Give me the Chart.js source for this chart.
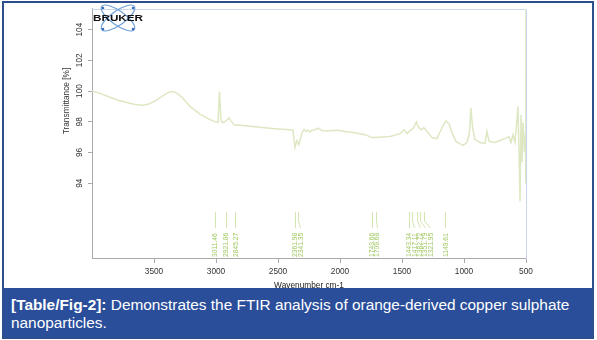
<!DOCTYPE html>
<html>
<head>
<meta charset="utf-8">
<title>FTIR</title>
<script src="https://cdn.jsdelivr.net/npm/chart.js@4.4.1/dist/chart.umd.min.js"></script>
<style>
    body { margin: 0; background: #fff; font-family: "Liberation Sans", Arial, sans-serif; }
    #fig { position: absolute; left: 2px; top: 1px; width: 588px; height: 334px; border: 2px solid #2d4f8e; overflow: hidden; background: #fff; }
    #chart { position: absolute; left: 0; top: 0; }
    #caption { position: absolute; left: 0; top: 285px; width: 588px; height: 60px; background: #2a4e9a; color: #fff;
               font-size: 15.4px; line-height: 18px; padding: 8px 0 0 7px; box-sizing: border-box; white-space: nowrap; }
</style>
</head>
<body>
<div id="fig">
    <canvas id="chart" width="588" height="292"></canvas>
    <div id="caption"><b>[Table/Fig-2]:</b> Demonstrates the FTIR analysis of orange-derived copper sulphate<br>nanoparticles.</div>
</div>
<script>
// spectrum (wavenumber cm-1, transmittance %)
const wavenumbers = [4000, 3935, 3855, 3790, 3726, 3661, 3597, 3548, 3492, 3435, 3387, 3355, 3323, 3274, 3210, 3129, 3065,
    3008, 2984, 2972, 2960, 2944, 2919, 2895, 2879, 2855, 2766, 2645, 2524, 2403, 2379, 2363, 2347, 2331, 2306, 2290, 2274,
    2260, 2242, 2228, 2202, 2177, 2145, 2081, 2016, 1960, 1879, 1798, 1742, 1677, 1597, 1516, 1484, 1460, 1435, 1411, 1383,
    1371, 1347, 1323, 1290, 1258, 1218, 1185, 1169, 1145, 1121, 1097, 1065, 1008, 976, 956, 944, 931, 911, 871, 831, 815,
    798, 750, 710, 669, 637, 621, 605, 589, 573, 565, 556, 548, 540, 532, 524, 512, 504, 502, 500];
const transmittance = [100.0, 99.85, 99.6, 99.4, 99.27, 99.14, 99.08, 99.14, 99.34, 99.65, 99.9, 99.97, 99.9, 99.6, 99.0, 98.5, 98.2,
    98.0, 97.96, 99.97, 98.06, 97.93, 98.06, 98.25, 98.06, 97.8, 97.74, 97.64, 97.55, 97.48, 97.45, 96.33, 96.78, 96.52, 97.29, 97.5, 97.38,
    97.46, 97.34, 97.44, 97.48, 97.58, 97.42, 97.42, 97.45, 97.36, 97.29, 97.16, 96.97, 97.0, 97.04, 97.23, 97.48, 97.23, 97.42, 97.55, 97.99,
    97.68, 97.48, 97.61, 97.29, 96.97, 96.9, 97.48, 97.74, 98.06, 97.87, 97.29, 96.72, 96.46, 96.65, 97.29, 98.89, 97.61, 96.84, 96.65, 96.59, 97.36,
    96.72, 96.65, 96.78, 96.9, 97.04, 96.65, 97.16, 96.65, 98.12, 99.0, 96.0, 92.82, 98.44, 95.37, 97.93, 96.0, 97.3, 94.0, 106];

const xTicks = [3500, 3000, 2500, 2000, 1500, 1000, 500];
const yTicks = [94, 96, 98, 100, 102, 104];

// peak picks printed under the spectrum
const peakWavenumbers = [3011.46, 2921.86, 2845.27, 2361.98, 2341.35, 1743.66, 1709.68,
    1443.34, 1417.11, 1382.72, 1351.79, 1321.95, 1149.61];

const axisFont = { family: '"Liberation Sans", Arial, sans-serif', size: 8.3 };

// light blue frame on top and right, drawn under the spectrum
const framePlugin = {
    id: 'frame',
    beforeDatasetsDraw(chart) {
        const ctx = chart.ctx;
        const area = chart.chartArea;
        ctx.save();
        ctx.strokeStyle = '#c8d8ec';
        ctx.lineWidth = 1;
        ctx.beginPath();
        ctx.moveTo(area.left, area.top + 0.5);
        ctx.lineTo(area.right + 0.5, area.top + 0.5);
        ctx.lineTo(area.right + 0.5, area.bottom);
        ctx.stroke();
        ctx.restore();
    }
};

// peak labels, y title, logo
const extrasPlugin = {
    id: 'extras',
    afterDraw(chart) {
        const ctx = chart.ctx;
        const x = chart.scales.x;

        // peak lines and labels, spread so they don't collide
        const px = peakWavenumbers.map(w => x.getPixelForValue(w));
        const lx = [];
        px.forEach((p, i) => {
            let pos = p;
            if (i > 0 && pos < lx[i - 1] + 5.3) pos = lx[i - 1] + 5.3;
            lx.push(pos);
        });
        ctx.save();
        ctx.strokeStyle = '#d3e6b0';
        ctx.lineWidth = 1;
        px.forEach((p, i) => {
            ctx.beginPath();
            ctx.moveTo(Math.round(p) + 0.5, 209);
            ctx.lineTo(Math.round(p) + 0.5, 218);
            ctx.lineTo(Math.round(lx[i]) + 0.5, 225);
            ctx.stroke();
        });
        ctx.fillStyle = '#a0c862';
        ctx.font = '6.7px "Liberation Sans", Arial, sans-serif';
        ctx.textAlign = 'left';
        ctx.textBaseline = 'middle';
        lx.forEach((l, i) => {
            ctx.save();
            ctx.translate(l + 0.5, 254);
            ctx.rotate(-Math.PI / 2);
            ctx.fillText(peakWavenumbers[i].toFixed(2), 0, 0);
            ctx.restore();
        });
        ctx.restore();

        // y axis title
        ctx.save();
        ctx.fillStyle = '#333';
        ctx.font = '8.3px "Liberation Sans", Arial, sans-serif';
        ctx.textAlign = 'center';
        ctx.textBaseline = 'middle';
        ctx.translate(63, 98);
        ctx.rotate(-Math.PI / 2);
        ctx.fillText('Transmittance [%]', 0, 0);
        ctx.restore();

        // Bruker logo
        ctx.save();
        ctx.strokeStyle = '#6f9fd8';
        ctx.lineWidth = 1.2;
        [0.62, -0.62].forEach(r => {
            ctx.beginPath();
            ctx.ellipse(114, 15, 20, 7, r, 0, Math.PI * 2);
            ctx.stroke();
        });
        ctx.fillStyle = '#3d6fb8';
        [[99, 5], [129, 5], [99, 26], [129, 26]].forEach(d => {
            ctx.beginPath();
            ctx.arc(d[0], d[1], 1.3, 0, Math.PI * 2);
            ctx.fill();
        });
        ctx.fillStyle = '#111';
        ctx.font = 'bold 8.5px "Liberation Sans", Arial, sans-serif';
        ctx.textAlign = 'center';
        ctx.textBaseline = 'middle';
        const tw = ctx.measureText('BRUKER').width;
        ctx.translate(114, 15.5);
        ctx.scale(50 / tw, 1);
        ctx.fillText('BRUKER', 0, 0);
        ctx.restore();
    }
};

new Chart(document.getElementById('chart'), {
    type: 'line',
    data: {
        datasets: [{
            data: wavenumbers.map((w, i) => ({ x: w, y: transmittance[i] })),
            borderColor: 'rgb(221, 232, 195)',
            borderWidth: 1.5,
            pointRadius: 0,
            tension: 0,
            fill: false
        }]
    },
    options: {
        responsive: false,
        animation: false,
        devicePixelRatio: 1,
        layout: { padding: { left: 57, right: 66, top: 1, bottom: 4 } },
        plugins: { legend: { display: false }, tooltip: { enabled: false } },
        scales: {
            x: {
                type: 'linear',
                reverse: true,
                min: 500,
                max: 4000,
                afterBuildTicks: (scale) => { scale.ticks = xTicks.map(v => ({ value: v })); },
                afterFit: (scale) => { scale.height = 32; },
                grid: { drawOnChartArea: false, tickLength: 4, color: '#aaa' },
                border: { color: '#aaa' },
                ticks: { autoSkip: false, maxRotation: 0, padding: 4, color: '#333', font: axisFont,
                         callback: (v) => String(v) },
                title: { display: true, text: 'Wavenumber cm-1', color: '#222', font: axisFont, padding: 0 }
            },
            y: {
                type: 'linear',
                min: 89.07,
                max: 105.34,
                afterBuildTicks: (scale) => { scale.ticks = yTicks.map(v => ({ value: v })); },
                afterFit: (scale) => { scale.width = 31; },
                grid: { drawOnChartArea: false, tickLength: 4, color: '#aaa' },
                border: { color: '#aaa' },
                ticks: { minRotation: 90, maxRotation: 90, crossAlign: 'center', padding: 1, color: '#333', font: axisFont,
                         callback: (v) => String(v) }
            }
        }
    },
    plugins: [framePlugin, extrasPlugin]
});
</script>
</body>
</html>
